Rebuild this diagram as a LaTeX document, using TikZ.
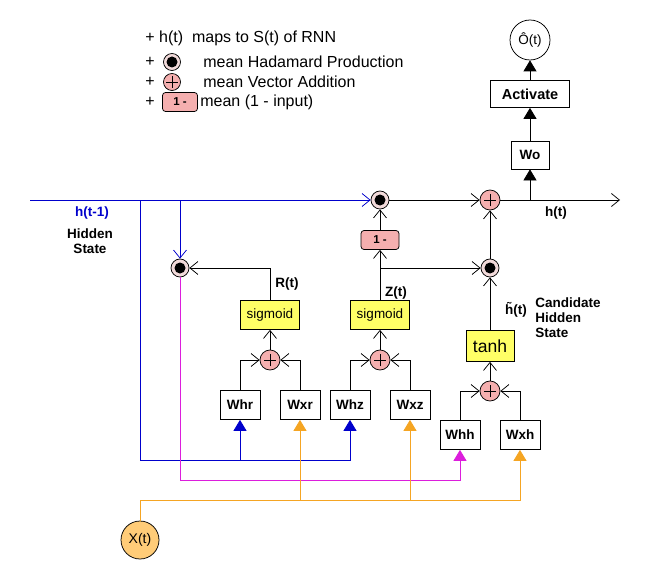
\documentclass[tikz,border=0pt]{standalone}
\usepackage{fontspec}
\setmainfont{Liberation Sans}
\usetikzlibrary{positioning, arrows.meta}
\definecolor{hblue}{RGB}{0,0,204}
\definecolor{rmag}{RGB}{220,30,220}
\definecolor{xorange}{RGB}{245,165,35}
\definecolor{sigyellow}{RGB}{255,255,102}
\definecolor{addpink}{RGB}{245,175,175}
\definecolor{hadpink}{RGB}{242,218,218}
\definecolor{xfill}{RGB}{255,204,120}
\tikzset{%
	opn/.style = {-{Straight Barb[length=8pt,width=13pt]}},
	tri/.style = {-{Triangle[length=11pt,width=13pt]}},
	lgd/.style = {inner sep = 0pt, font = \fontsize{16}{18}\selectfont},
	lbl/.style = {inner sep = 0pt, font = \fontsize{13.5}{15}\selectfont\bfseries},
	wbox/.style = {name = #1, draw, minimum width = 40pt, minimum height = 29pt, inner sep = 0pt, font = \fontsize{13.5}{14}\selectfont\bfseries},
	sig/.style = {name = #1, draw, fill = sigyellow, minimum width = 59pt, minimum height = 29pt, inner sep = 0pt, font = \fontsize{13.5}{14}\selectfont},
	had/.style = {name = #1, circle, draw, fill = hadpink, minimum size = 18pt, inner sep = 0pt,
		path picture = {\fill [black] (path picture bounding box.center) circle (5.5pt);}},
	add/.style = {name = #1, circle, draw, fill = addpink, minimum size = 20pt, inner sep = 0pt,
		path picture = {\draw [black, line width = 0.6pt] ([xshift=-6pt]path picture bounding box.center) -- ([xshift=6pt]path picture bounding box.center);
			\draw [black, line width = 0.6pt] ([yshift=-6pt]path picture bounding box.center) -- ([yshift=6pt]path picture bounding box.center);}},
	onebox/.style = {name = #1, draw, rounded corners = 3pt, fill = addpink, minimum width = 38pt, minimum height = 19pt, inner sep = 0pt, font = \fontsize{11.5}{12}\selectfont\bfseries}
}

\begin{document}
\begin{tikzpicture}[x=1pt, y=-1pt, line width=0.75pt]
	\useasboundingbox (0,0) rectangle (660,580);
	% legend
	\node [lgd, anchor = west] (lg1) at (145,38) {+ h(t)\ \ maps to S(t) of RNN};
	\node [lgd] (lp2) at (150,62) {+};
	\node [had = lhad, minimum size = 17pt] at (172,62) {};
	\node [lgd, anchor = west] (lg2) at (203,62) {mean Hadamard Production};
	\node [lgd] (lp3) at (150,82) {+};
	\node [add = ladd, minimum size = 17pt] at (172,82) {};
	\node [lgd, anchor = west] (lg3) at (203,82) {mean Vector Addition};
	\node [lgd] (lp4) at (150,102) {+};
	\node [onebox = lone, minimum width = 35pt] at (180,102) {1 -};
	\node [lgd, anchor = west] (lg4) at (200,102) {mean (1 - input)};

	% gates
	\node [had = hadT] at (380,200) {};
	\node [had = hadR] at (180,268) {};
	\node [had = hadC] at (490,268) {};
	\node [add = addT] at (490,200) {};
	\node [add = addR] at (270,360) {};
	\node [add = addZ] at (380,360) {};
	\node [add = addC] at (490,391) {};
	\node [onebox = one] at (380,240) {1 -};
	\node [sig = sigR] at (270,315) {sigmoid};
	\node [sig = sigZ] at (380,315) {sigmoid};
	\node [sig = tanh, minimum width = 48pt, minimum height = 31pt, font = \fontsize{17.5}{18}\selectfont] at (490,346) {tanh};
	\node [wbox = Whr] at (240,405) {Whr};
	\node [wbox = Wxr] at (300,405) {Wxr};
	\node [wbox = Whz] at (350,405) {Whz};
	\node [wbox = Wxz] at (410,405) {Wxz};
	\node [wbox = Whh] at (460,435) {Whh};
	\node [wbox = Wxh] at (520,435) {Wxh};
	\node [wbox = Wo, minimum width = 38pt, minimum height = 28pt] at (530,155) {Wo};
	\node [wbox = Act, minimum width = 79pt, minimum height = 27pt, font = \fontsize{14.5}{15}\selectfont\bfseries] at (530,94) {Activate};
	\node [circle, draw, minimum size = 40pt, inner sep = 0pt, font = \fontsize{13.5}{14}\selectfont] (out) at (530,40) {\^{O}(t)};
	\node [circle, draw, fill = xfill, minimum size = 38pt, inner sep = 0pt, font = \fontsize{14}{15}\selectfont] (X) at (140,540) {X(t)};

	% labels
	\node [lbl, text = hblue] (hprev) at (92,213) {h(t-1)};
	\node [lbl, align = center] (hst) at (90,241) {Hidden\\State};
	\node [lbl] (rt) at (287,284) {R(t)};
	\node [lbl] (zt) at (396,293) {Z(t)};
	\node [lbl] (ht) at (556,213) {h(t)};
	\node [lbl] (hcand) at (516,310) {\~{h}(t)};
	\node [lbl, anchor = north west, align = left] (cst) at (535,297) {Candidate\\Hidden\\State};

	% hidden state in
	\coordinate (hin) at (30,200);
	\coordinate (hb1) at (140,200);
	\coordinate (hb2) at (180,200);
	\coordinate (hlow) at (140,460);
	\draw [hblue, opn] (hin) -- (hadT);
	\draw [hblue, opn] (hb2) -- (hadR);
	\draw [hblue, tri] (hb1) -- (hlow) -| (Whz.south);
	\draw [hblue, tri] (Whr.south |- hlow) -- (Whr.south);

	% reset gate
	\draw [opn] (Whr.north) |- (addR.west);
	\draw [opn] (Wxr.north) |- (addR.east);
	\draw [opn] (addR) -- (sigR);
	\draw [opn] (sigR.north) |- (hadR.east);

	% update gate
	\draw [opn] (Whz.north) |- (addZ.west);
	\draw [opn] (Wxz.north) |- (addZ.east);
	\draw [opn] (addZ) -- (sigZ);
	\draw [opn] (sigZ) -- (one);
	\draw [opn] (one) -- (hadT);
	\draw [opn] (sigZ.north |- hadC) -- (hadC);

	% candidate
	\draw [opn] (Whh.north) |- (addC.west);
	\draw [opn] (Wxh.north) |- (addC.east);
	\draw [opn] (addC) -- (tanh);
	\draw [opn] (tanh) -- (hadC);

	% output
	\coordinate (hout) at (620,200);
	\draw [opn] (hadT) -- (addT);
	\draw [opn] (hadC) -- (addT);
	\draw [opn] (addT) -- (hout);
	\draw [tri] (Wo.south |- addT) -- (Wo);
	\draw [tri] (Wo) -- (Act);
	\draw [tri] (Act) -- (out);

	% reset hidden to Whh
	\coordinate (rlow) at (180,480);
	\draw [rmag, tri] (hadR) -- (rlow) -| (Whh.south);

	% input
	\coordinate (xlow) at (140,500);
	\draw [xorange, tri] (X) -- (xlow) -| (Wxh.south);
	\draw [xorange, tri] (Wxr.south |- xlow) -- (Wxr.south);
	\draw [xorange, tri] (Wxz.south |- xlow) -- (Wxz.south);
\end{tikzpicture}
\end{document}
